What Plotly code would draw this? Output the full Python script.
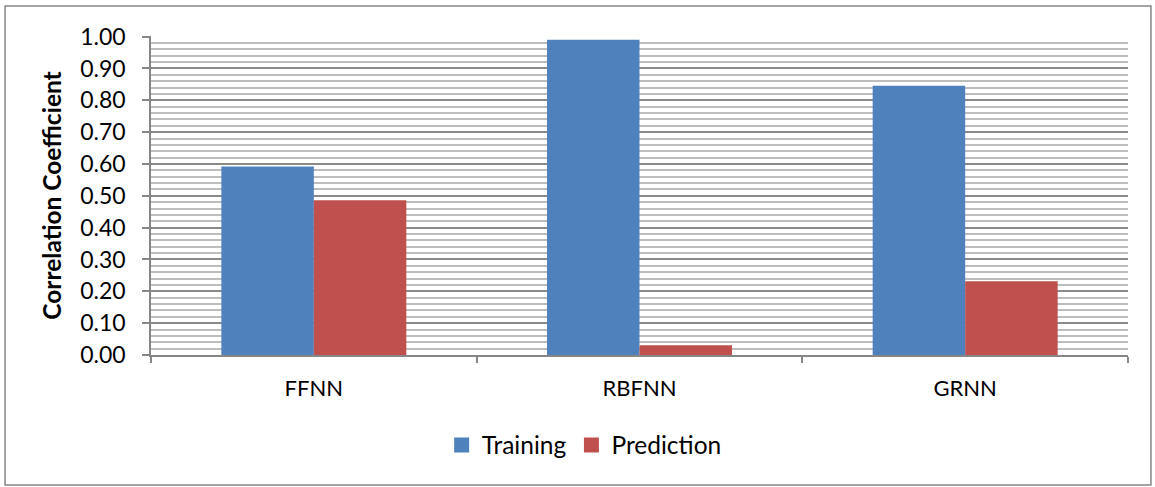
import plotly.graph_objects as go

categories = ["FFNN", "RBFNN", "GRNN"]
training = [0.592, 0.990, 0.846]
prediction = [0.486, 0.031, 0.232]
series_names = ["Training", "Prediction"]
colors = ["#4F81BD", "#C0504D"]

FONT = "Lato"

fig = go.Figure()
fig.add_trace(go.Bar(x=categories, y=training, name=series_names[0], showlegend=False,
                     marker=dict(color=colors[0], line=dict(width=0))))
fig.add_trace(go.Bar(x=categories, y=prediction, name=series_names[1], showlegend=False,
                     marker=dict(color=colors[1], line=dict(width=0))))
# legend entries with larger square swatches
for name, c in zip(series_names, colors):
    fig.add_trace(go.Scatter(x=[None], y=[None], mode="markers", name=name,
                             marker=dict(symbol="square", size=15, color=c)))

fig.update_layout(
    width=1155, height=487,
    margin=dict(l=151, r=27, t=36, b=132),
    paper_bgcolor="white", plot_bgcolor="white",
    barmode="group", bargap=0.432, bargroupgap=0,
    font=dict(family=FONT, size=23, color="#000000"),
    showlegend=True,
    legend=dict(orientation="h", x=0.2975, y=-0.282, xanchor="left", yanchor="middle",
                font=dict(size=24.5), traceorder="normal", itemwidth=30, tracegroupgap=0),
    xaxis=dict(showline=True, linecolor="#868686", linewidth=1.5,
               ticks="outside", tickson="boundaries", ticklen=6, tickcolor="#868686",
               tickwidth=1.5, showgrid=False, tickfont=dict(size=22), ticklabelstandoff=13),
    yaxis=dict(range=[0, 1.002], dtick=0.1, tick0=0, tickformat=".2f",
               showline=True, linecolor="#868686", linewidth=1.5,
               ticks="outside", ticklen=7, tickcolor="#868686", tickwidth=1.5,
               showgrid=True, gridcolor="#8a8a8a", gridwidth=1.5,
               zeroline=False, ticklabelstandoff=12,
               minor=dict(dtick=0.02, tick0=0, showgrid=True, gridcolor="#bdbdbd", gridwidth=1.5, ticks=""),
               title=dict(text="<b>Correlation Coefficient</b>", font=dict(size=24.5), standoff=12),
               tickfont=dict(size=23)),
)

# outer chart border
fig.add_shape(type="rect", xref="paper", yref="paper",
              x0=-0.1494, x1=1.0235, y0=-0.4075, y1=1.094,
              line=dict(color="#868686", width=1.5), fillcolor="rgba(0,0,0,0)", layer="below")

fig.write_html("out.html", config={"displayModeBar": False},
               post_script="document.body.style.margin='0';document.body.style.padding='0';")
